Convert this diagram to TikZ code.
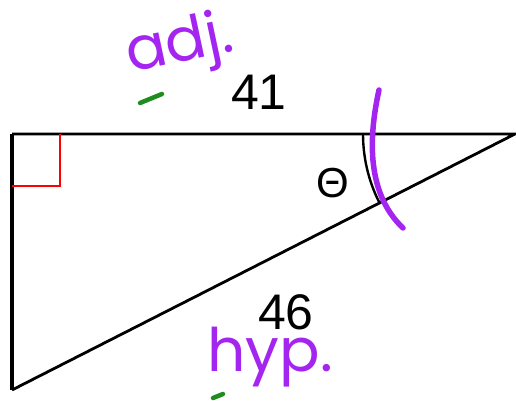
\documentclass[tikz,border=0pt]{standalone}
\usepackage{fontspec}
\setmainfont{Liberation Sans}
\newfontfamily\handfont{Poppins}
\usetikzlibrary{calc}
\definecolor{inkpurple}{HTML}{A424F0}
\definecolor{inkgreen}{HTML}{1E8C1E}
\tikzset{
  side/.style={line width=2.8pt},
  leg/.style={line width=4.5pt},
  rightmark/.style={draw=red, line width=2.4pt},
  anglearc/.style={line width=2.4pt},
  num/.style={font=\fontsize{50}{50}\selectfont, inner sep=0pt},
  greek/.style={font=\fontsize{42}{42}\selectfont, inner sep=0pt},
  hand/.style={text=inkpurple, font=\handfont\fontsize{60}{60}\selectfont, inner sep=0pt},
  ink/.style={draw=inkpurple, line width=5.5pt, line cap=round},
  tick/.style={draw=inkgreen, line width=4.5pt, line cap=round},
}

\begin{document}
\begin{tikzpicture}[x=1pt, y=1pt]
  \useasboundingbox (0,0) rectangle (516,401);
  % vertices
  \coordinate (A) at (12,267);
  \coordinate (B) at (515,267);
  \coordinate (C) at (12,11);
  \coordinate (mark) at (60,215);
  % triangle
  \draw[side] (A) -- (B) -- (C);
  \draw[leg] (A) -- (C);
  \draw[rightmark] (A -| mark) -- (mark) -- (A |- mark);
  \draw[anglearc] ($(B)+(180:152)$) arc[start angle=180, end angle=207, radius=152];
  % labels
  \node[num] (top) at (259,309) {41};
  \node[num] (hypnum) at (286,89) {46};
  \node[greek] (theta) at (333,218) {Θ};
  % handwriting
  \node[hand, rotate=12] (adj) at (180,354) {adj.};
  \node[hand] (hyp) at (270,44) {hyp.};
  \draw[ink] (379,311) .. controls (370,270) and (364,210) .. (403,173);
  \draw[tick] (140,298) -- (162,307);
  \draw[tick] (213,3) -- (223,7);
\end{tikzpicture}
\end{document}
